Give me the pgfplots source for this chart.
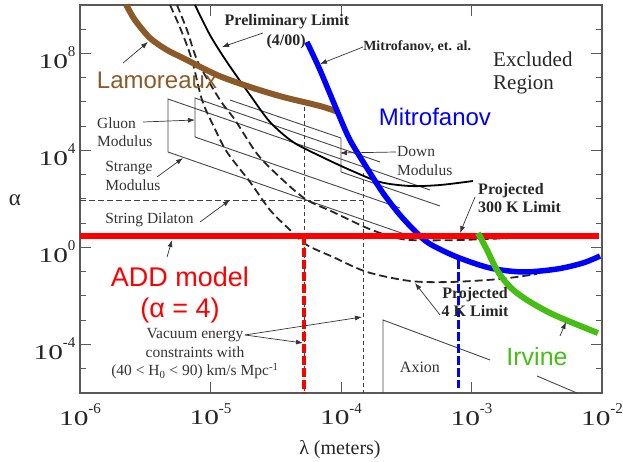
\documentclass[border=0pt]{standalone}
\usepackage{fontspec}
\setmainfont{Liberation Serif}
\newfontfamily\sansf{Liberation Sans}
\usepackage{graphicx}
\usepackage{pgfplots}
\pgfplotsset{compat=1.18}
\usetikzlibrary{arrows.meta}
\definecolor{lamo}{RGB}{140,90,40}
\definecolor{irv}{RGB}{70,190,20}
\definecolor{modg}{RGB}{70,70,70}
\newcommand{\tl}[1]{\scalebox{1.4}[1]{10}\raisebox{0.55em}{\fontsize{15}{15}\selectfont #1}}
\begin{document}
\begin{tikzpicture}[
  ann/.style={font=\fontsize{15.5}{18.5}\selectfont, text=black!80, align=left, inner sep=0pt},
  annb/.style={font=\fontsize{16}{18}\selectfont\bfseries, text=black!85, align=left, inner sep=0pt},
  arr/.style={-{Latex[length=7pt,width=5pt]}, line width=0.7pt, black!80},
  modline/.style={modg, line width=0.9pt, no marks},
  vdash/.style={black!75, line width=0.7pt, dash pattern=on 4pt off 3pt, no marks},
  thdash/.style={black!85, line width=1.8pt, dash pattern=on 8pt off 4pt, no marks, smooth, tension=0.5},
]
\begin{axis}[name=ax,
  scale only axis, width=522pt, height=388pt,
  xmin=-6, xmax=-2, ymin=-6, ymax=10,
  xtick={-6,-5,-4,-3,-2},
  xticklabels={\tl{-6},\tl{-5},\tl{-4},\tl{-3},\tl{-2}},
  ytick={-4,0,4,8},
  yticklabels={\tl{-4},\tl{0},\tl{4},\tl{8}},
  minor ytick={-6,-5,...,10},
  axis line style={black!65, line width=1.2pt},
  tick style={black!65, line width=1pt},
  major tick length=11pt, minor tick length=6pt,
  ticklabel style={font=\fontsize{21}{21}\selectfont, text=black!85},
  xticklabel style={yshift=-7pt},
  yticklabel style={yshift=-4pt, xshift=-1pt},
  clip=false,
]
% moduli bands
\addplot[modline] coordinates {(-3.318,2.371) (-5.326,6.124) (-5.326,3.938) (-3.471,0.474)};
\addplot[modline] coordinates {(-3.701,3.526) (-5.119,6.165) (-5.119,4.557) (-3.548,1.629)};
\addplot[modline] coordinates {(-4.851,6.082) (-4.000,4.515) (-4.000,3.113) (-3.241,1.711)};
% string dilaton
\addplot[vdash, line width=0.9pt, dash pattern=on 6pt off 3pt] coordinates {(-6,1.959) (-3.831,1.959)};
% vacuum energy verticals
\addplot[vdash] coordinates {(-4.284,5.794) (-4.284,-6)};
\addplot[vdash] coordinates {(-3.831,3.072) (-3.831,-6)};
% preliminary limit
\addplot[black, line width=1.8pt, smooth, tension=0.5, no marks] coordinates {
(-5.119,10.0) (-5.004,8.763) (-4.874,7.649) (-4.697,6.289) (-4.544,5.175) (-4.368,4.351)
(-4.161,3.773) (-3.931,3.196) (-3.701,2.701) (-3.471,2.536) (-3.241,2.577) (-2.989,2.742)};
% projected 4 K limit
\addplot[thdash] coordinates {
(-5.310,10.0) (-5.226,8.969) (-5.142,7.732) (-5.065,6.082) (-4.973,4.969) (-4.874,3.938)
(-4.697,2.701) (-4.544,1.546) (-4.391,0.722) (-4.261,0.103) (-4.061,-0.392) (-3.801,-1.010)
(-3.471,-1.381) (-3.165,-1.423) (-2.782,-1.299) (-2.498,-1.093)};
% projected 300 K limit
\addplot[thdash] coordinates {
(-5.257,10.0) (-5.180,8.969) (-5.096,7.649) (-4.927,6.082) (-4.812,5.258) (-4.636,3.814)
(-4.429,2.701) (-4.261,1.959) (-4.061,1.464) (-3.801,0.804) (-3.625,0.474) (-3.471,0.309)
(-3.088,0.309) (-2.536,0.433)};
% axion
\addplot[modline] coordinates {(-3.678,-6) (-3.678,-2.990) (-2.858,-4.639)};
\addplot[modline] coordinates {(-2.498,-5.299) (-2.192,-6)};
% Lamoreaux
\addplot[lamo, line width=6pt, smooth, tension=0.5, no marks] coordinates {
(-5.645,10.0) (-5.579,9.381) (-5.464,8.639) (-5.333,8.144) (-5.211,7.814) (-4.950,7.113)
(-4.697,6.619) (-4.444,6.206) (-4.161,5.835) (-4.023,5.588)};
% Mitrofanov
\addplot[blue, line width=5.5pt, smooth, tension=0.5, no marks] coordinates {
(-4.261,8.474) (-4.161,7.320) (-4.023,5.546) (-3.931,4.433) (-3.801,3.278) (-3.678,2.247)
(-3.548,1.340) (-3.418,0.598) (-3.318,0.144) (-3.111,-0.392) (-2.858,-0.845) (-2.605,-1.010)
(-2.345,-0.887) (-2.146,-0.639) (-2.015,-0.351)};
% ADD model line
\addplot[red, line width=6pt, no marks] coordinates {(-6,0.47) (-2.02,0.47)};
\addplot[red, line width=3.5pt, dash pattern=on 9pt off 3pt, no marks] coordinates {(-4.284,0.47) (-4.284,-6)};
\addplot[blue, line width=3pt, dash pattern=on 9pt off 3pt, no marks] coordinates {(-3.096,-0.5) (-3.096,-5.8)};
% Irvine
\addplot[irv, line width=6pt, smooth, tension=0.5, no marks] coordinates {
(-2.950,0.598) (-2.881,-0.103) (-2.805,-0.928) (-2.705,-1.629) (-2.575,-2.165)
(-2.398,-2.701) (-2.222,-3.113) (-2.031,-3.526)};

% annotations
\node[annb, anchor=center] at (axis cs:-4.414,9.299) {Preliminary Limit};
\node[annb, anchor=center] at (axis cs:-4.421,8.474) {(4/00)};
\draw[arr] (axis cs:-4.598,8.845) -- (axis cs:-4.912,8.268);
\node[annb, font=\fontsize{14}{16}\selectfont\bfseries, anchor=west] at (axis cs:-3.831,8.268) {Mitrofanov, et. al.};
\draw[arr] (axis cs:-3.831,8.268) -- (axis cs:-4.161,7.567);
\node[ann, font=\fontsize{21}{23}\selectfont, anchor=west, text=black!85] at (axis cs:-2.835,7.196) {Excluded\\Region};
\node[font=\sansf\fontsize{24}{24}\selectfont, text=blue] at (axis cs:-3.280,5.381) {Mitrofanov};
\node[font=\sansf\fontsize{24}{24}\selectfont, text=lamo] at (axis cs:-5.410,6.907) {Lamoreaux};
\draw[arr] (axis cs:-5.670,7.608) -- (axis cs:-5.479,8.474);
\node[ann, anchor=west] at (axis cs:-5.870,4.763) {Gluon\\Modulus};
\draw[arr] (axis cs:-5.517,5.175) -- (axis cs:-5.119,5.258);
\node[ann, anchor=west] at (axis cs:-5.808,2.948) {Strange\\Modulus};
\draw[arr] (axis cs:-5.410,2.907) -- (axis cs:-5.211,3.691);
\node[ann, anchor=west] at (axis cs:-5.808,1.134) {String Dilaton};
\draw[arr] (axis cs:-5.080,1.052) -- (axis cs:-4.851,1.959);
\node[ann, anchor=west] at (axis cs:-3.571,3.567) {Down\\Modulus};
\draw[arr] (axis cs:-3.579,3.938) -- (axis cs:-4.008,3.897);
\node[annb, anchor=west] at (axis cs:-2.950,2.041) {Projected\\300 K Limit};
\draw[arr] (axis cs:-2.973,2.082) -- (axis cs:-3.088,0.598);
\node[annb, align=center] at (axis cs:-2.973,-2.247) {Projected\\4 K Limit};
\draw[arr] (axis cs:-3.241,-2.784) -- (axis cs:-3.433,-1.464);
\node[font=\sansf\fontsize{27}{31}\selectfont, text=red, align=center] at (axis cs:-5.234,-1.96) {ADD model\\(α = 4)};
\draw[arr] (axis cs:-5.333,-0.392) -- (axis cs:-5.295,0.309);
\node[ann, align=center] at (axis cs:-5.119,-4.392) {Vacuum energy\\constraints with\\(40 < H\textsubscript{0} < 90) km/s Mpc\textsuperscript{-1}};
\draw[arr] (axis cs:-4.736,-3.608) -- (axis cs:-4.291,-3.938);
\draw[arr] (axis cs:-4.736,-3.608) -- (axis cs:-3.839,-2.866);
\node[ann, font=\fontsize{16}{18}\selectfont] at (axis cs:-3.395,-4.928) {Axion};
\node[font=\sansf\fontsize{25}{25}\selectfont, text=irv] at (axis cs:-2.498,-4.515) {Irvine};
\draw[arr] (axis cs:-2.322,-3.649) -- (axis cs:-2.276,-3.072);
% axis labels
\node[font=\fontsize{23}{23}\selectfont, text=black!85] at (axis cs:-6.498,1.959) {α};
\node[font=\fontsize{20}{20}\selectfont, text=black!85] at (axis cs:-4.008,-8.351) {λ (meters)};
\end{axis}
\pgfresetboundingbox
\path[use as bounding box] ([shift={(-80pt,-69pt)}]ax.south west) rectangle ([shift={(21pt,5pt)}]ax.north east);
\end{tikzpicture}
\end{document}
